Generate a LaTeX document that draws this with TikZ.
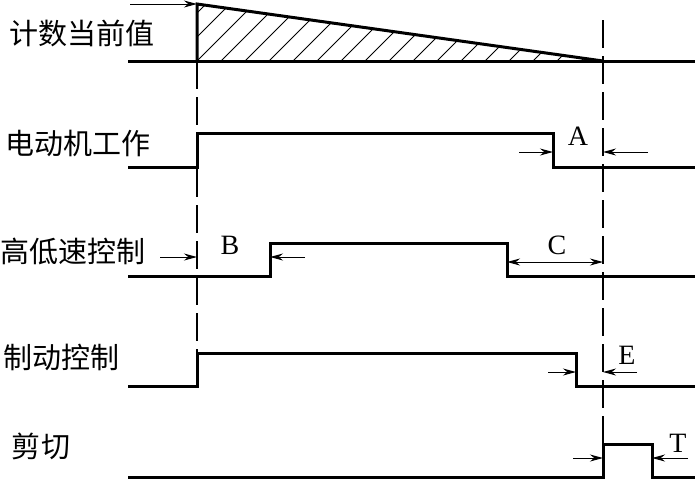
\documentclass[tikz,border=0pt]{standalone}
\usepackage{fontspec}
\setmainfont{Liberation Serif}
\newfontfamily\cjk{Noto Sans CJK SC}
\usetikzlibrary{arrows.meta}
\begin{document}
\begin{tikzpicture}[x=1pt,y=-1pt,
  sig/.style={line width=3pt, line join=miter},
  dimarrow/.style={line width=1pt, -{Stealth[length=13pt,width=7pt]}},
  dimboth/.style={line width=1pt, {Stealth[length=13pt,width=7pt]}-{Stealth[length=13pt,width=7pt]}},
  guide/.style={line width=2pt, dash pattern=on 28pt off 8pt},
  hatch/.style={line width=0.9pt},
  lbl/.style={font=\cjk\fontsize{29}{29}\selectfont, inner sep=0pt},
  letter/.style={font=\fontsize{28}{28}\selectfont, inner sep=0pt}]
\useasboundingbox (0,0) rectangle (695,480);

% labels
\node[lbl] (l1) at (82,33) {计数当前值};
\node[lbl] (l2) at (78,143) {电动机工作};
\node[lbl] (l3) at (73,251) {高低速控制};
\node[lbl] (l4) at (61,357) {制动控制};
\node[lbl] (l5) at (41,446) {剪切};

% counter value
\coordinate (c0) at (197,61);
\coordinate (c1) at (197,4);
\coordinate (c2) at (603,61);
\coordinate (cin) at (130,4);
\begin{scope}
  \clip (c0) -- (c1) -- (c2) -- cycle;
  \foreach \k in {-3,...,17} {
    \draw[hatch] (221+24*\k,61) -- ++(90,-90);
  }
\end{scope}
\draw[sig] (128,61) -- (695,61);
\draw[sig] (c0) -- (c1) -- (c2);
\draw[dimarrow] (cin) -- (c1);

% guides
\draw[guide] (197,61) -- (197,353);
\draw[guide] (603,20) -- (603,444);

% motor
\draw[sig] (128,167) -- (197,167) -- (197,133) -- (553,133) -- (553,167) -- (695,167);
\coordinate (a1) at (519,152); \coordinate (a2) at (553,152);
\coordinate (a3) at (648,152); \coordinate (a4) at (603,152);
\draw[dimarrow] (a1) -- (a2);
\draw[dimarrow] (a3) -- (a4);
\node[letter] (A) at (578,136) {A};

% speed control
\draw[sig] (128,276) -- (270,276) -- (270,243) -- (507,243) -- (507,276) -- (695,276);
\coordinate (b1) at (160,257); \coordinate (b2) at (197,257);
\coordinate (b3) at (305,257); \coordinate (b4) at (270,257);
\draw[dimarrow] (b1) -- (b2);
\draw[dimarrow] (b3) -- (b4);
\node[letter] (B) at (230,245) {B};
\coordinate (cc1) at (507,262); \coordinate (cc2) at (603,262);
\draw[dimboth] (cc1) -- (cc2);
\node[letter] (C) at (557,245) {C};

% brake
\draw[sig] (128,386) -- (197,386) -- (197,353) -- (576,353) -- (576,386) -- (695,386);
\coordinate (e1) at (548,372); \coordinate (e2) at (576,372);
\coordinate (e3) at (637,372); \coordinate (e4) at (603,372);
\draw[dimarrow] (e1) -- (e2);
\draw[dimarrow] (e3) -- (e4);
\node[letter] (E) at (627,355) {E};

% shear
\draw[sig] (128,477) -- (603,477) -- (603,444) -- (652,444) -- (652,477) -- (695,477);
\coordinate (t1) at (573,458); \coordinate (t2) at (603,458);
\coordinate (t3) at (688,458); \coordinate (t4) at (652,458);
\draw[dimarrow] (t1) -- (t2);
\draw[dimarrow] (t3) -- (t4);
\node[letter] (T) at (678,443) {T};
\end{tikzpicture}
\end{document}
